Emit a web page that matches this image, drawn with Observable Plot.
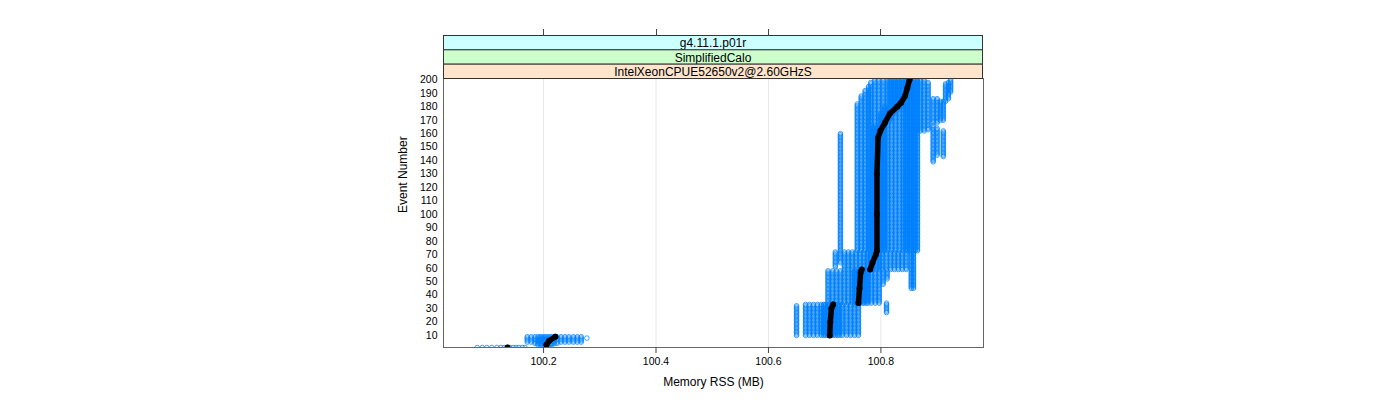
<!DOCTYPE html>
<html><head><meta charset="utf-8">
<script src="https://cdn.jsdelivr.net/npm/d3@7"></script>
<script src="https://cdn.jsdelivr.net/npm/@observablehq/plot@0.6"></script>
<style>body{margin:0;background:#fff;} svg{display:block}</style>
</head><body><div id="chart"></div><script>
// ---- labels & ticks ----
const stripLabels = ["g4.11.1.p01r", "SimplifiedCalo", "IntelXeonCPUE52650v2@2.60GHzS"];
const stripColors = ["#ccffff", "#ccffcc", "#ffe5cc"];
const xTitle = "Memory RSS (MB)";
const yTitle = "Event Number";
const xTicks = [100.2, 100.4, 100.6, 100.8];
const yTicks = [10,20,30,40,50,60,70,80,90,100,110,120,130,140,150,160,170,180,190,200];

// ---- per-run memory readings: columns [RSS (MB), first event, last event] ----
const event1Cols = [[100.082,1,1],[100.091,1,1],[100.099,1,1],[100.108,1,1],[100.117,1,1],[100.124,1,1],[100.130,1,1],[100.135,1,1],[100.140,1,1],[100.146,1,1],[100.151,1,1],[100.156,1,1],[100.162,1,1],[100.167,1,1]];
const event2Cols = [[100.171,5,9],[100.178,5,9],[100.185,4,9],[100.190,3,9],[100.194,3,9],[100.197,3,9],[100.201,3,9],[100.204,3,9],[100.208,3,9],[100.212,3,9],[100.215,3,9],[100.219,4,9],[100.224,4,9],[100.231,5,9],[100.238,5,9],[100.245,5,9],[100.253,5,9],[100.260,5,9],[100.267,5,9],[100.277,8,8]];
const event10Cols = [[100.650,10,32],[100.666,10,33],[100.673,10,33],[100.680,10,33],[100.687,10,33],[100.694,10,33],[100.698,10,33],[100.701,10,33],[100.705,10,33],[100.708,10,33],[100.712,10,33],[100.715,10,33],[100.719,10,33],[100.723,10,33],[100.726,10,33],[100.731,10,33],[100.739,10,33],[100.746,10,33],[100.753,10,33],[100.760,10,33],[100.810,27,34]];
const event34Cols = [[100.706,34,58],[100.714,34,58],[100.721,34,58],[100.728,34,58],[100.735,34,58],[100.742,34,58],[100.749,34,58],[100.753,34,58],[100.756,34,58],[100.760,34,58],[100.763,34,58],[100.767,34,58],[100.770,34,58],[100.774,34,58],[100.777,34,58],[100.783,34,58],[100.790,34,58],[100.797,34,58],[100.804,48,58],[100.811,52,58]];
const event59Cols = [[100.719,61,72],[100.735,59,72],[100.742,59,72],[100.749,59,72],[100.756,59,72],[100.763,59,72],[100.770,59,72],[100.776,59,72],[100.781,59,72],[100.786,59,72],[100.792,59,72],[100.797,59,72],[100.802,59,72],[100.810,59,72],[100.817,59,72],[100.824,59,72],[100.831,59,72],[100.838,59,72],[100.845,59,72]];
const event73Cols = [[100.728,64,160],[100.758,73,182],[100.765,73,188],[100.772,73,192],[100.778,73,195],[100.782,73,198],[100.786,73,165],[100.789,73,200],[100.793,73,165],[100.796,73,200],[100.800,73,175],[100.804,73,200],[100.807,73,180],[100.812,73,200],[100.816,170,200],[100.819,73,200],[100.823,175,200],[100.826,73,200],[100.830,178,200],[100.833,73,200],[100.837,180,200],[100.840,73,200],[100.844,73,200],[100.847,73,200],[100.851,73,200],[100.854,45,200],[100.858,45,200],[100.861,73,200],[100.865,73,200]];
const event160Cols = [[100.864,162,162],[100.870,162,200],[100.877,162,200],[100.884,163,198],[100.893,168,186],[100.900,168,186],[100.906,170,184],[100.911,170,184],[100.893,139,166],[100.900,144,164],[100.911,143,162],[100.915,184,197],[100.920,186,198],[100.924,191,200]];

// ---- median per event: [event, RSS, segment] ----
const medianEvent = [1, 3,6,9, 10,20,30,33, 34,45,57,59, 59,64,70,73,100,130,157,162,168,175,180,183,188,194,200];
const medianRSS   = [100.136, 100.205,100.210,100.221, 100.709,100.710,100.712,100.715, 100.760,100.762,100.764,100.766, 100.781,100.785,100.791,100.793,100.793,100.793,100.795,100.799,100.807,100.816,100.829,100.836,100.843,100.847,100.851];
const medianSeg   = [1, 2,2,2, 3,3,3,3, 4,4,4,4, 5,5,5,5,5,5,5,5,5,5,5,5,5,5,5];

// ---- build tables ----
const blue = [];
for (const cols of [event1Cols, event2Cols, event10Cols, event34Cols, event59Cols, event73Cols, event160Cols]) {
  for (const [rss, from, to] of cols) {
    for (let e = from; e <= to; e++) blue.push({rss, event: e});
  }
}
const median = medianEvent.map((e, i) => ({event: e, rss: medianRSS[i], seg: medianSeg[i]}));

const font = "'Liberation Sans', Arial, Helvetica, sans-serif";
const plot = Plot.plot({
  width: 1400, height: 400,
  marginLeft: 443, marginRight: 417, marginTop: 78, marginBottom: 53,
  style: {fontFamily: font, fontSize: "10.5px", background: "#fff", color: "#000", overflow: "visible"},
  x: {domain: [100.022, 100.9825]},
  y: {domain: [1, 201]},
  marks: [
    Plot.ruleX(xTicks, {stroke: "#e6e6e6", strokeWidth: 1}),
    Plot.dot(blue, {x: "rss", y: "event", r: 2.3, stroke: "#0080ff", strokeWidth: 0.75, fill: "none", clip: true}),
    Plot.line(median, {x: "rss", y: "event", z: "seg", stroke: "#000", strokeWidth: 5.5, strokeLinecap: "round", strokeLinejoin: "round", clip: true}),
    Plot.dot(median, {x: "rss", y: "event", r: 3, fill: "#000", stroke: "none", clip: true}),
    Plot.frame({stroke: "#666"}),
    Plot.axisX(xTicks, {anchor: "bottom", tickSize: 6, tickPadding: 4, label: null, stroke: "#444"}),
    Plot.axisY(yTicks, {anchor: "left", tickSize: 0, tickPadding: 6, label: null}),
    Plot.text([xTitle], {frameAnchor: "bottom", dy: 38, fontSize: 12, text: d => d}),
    Plot.text([yTitle], {frameAnchor: "left", dx: -40, rotate: -90, fontSize: 12, text: d => d})
  ]
});
document.getElementById("chart").appendChild(plot);

// strips and top ticks above the panel
const svg = d3.select(plot);
const xs = plot.scale("x");
const left = 443, right = 983, stripTop = 35, stripH = 43 / 3;
const g = svg.append("g");
stripLabels.forEach((lab, i) => {
  const y = stripTop + i * stripH;
  g.append("rect").attr("x", left + 0.5).attr("y", y + 0.5).attr("width", right - left - 1).attr("height", stripH)
    .attr("fill", stripColors[i]).attr("stroke", "#333").attr("stroke-width", 1);
  g.append("text").attr("x", (left + right) / 2).attr("y", y + stripH / 2 + 1)
    .attr("text-anchor", "middle").attr("dominant-baseline", "central")
    .attr("font-family", font).attr("font-size", 12).attr("fill", "#000").text(lab);
});
xTicks.forEach(v => {
  const px = Math.round(xs.apply(v)) + 0.5;
  g.append("line").attr("x1", px).attr("x2", px).attr("y1", 29).attr("y2", 35.5).attr("stroke", "#444");
});
</script></body></html>
